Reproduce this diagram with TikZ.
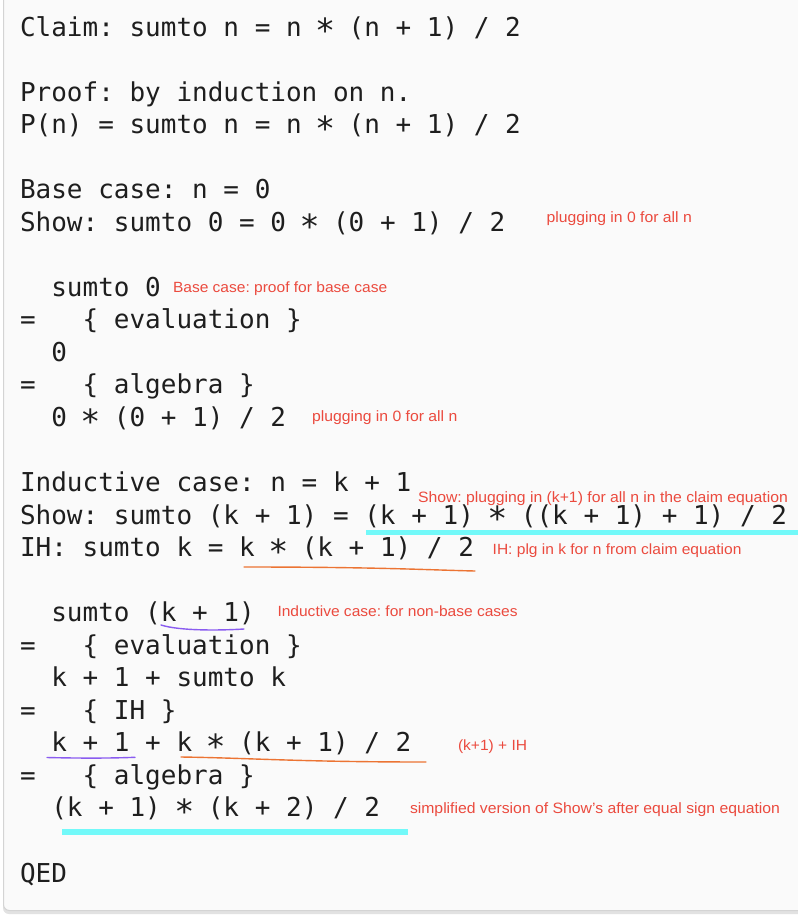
\documentclass[tikz,border=0pt]{standalone}
\usepackage{fontspec}
\newfontfamily\codefont{DejaVu Sans Mono}
\newfontfamily\annofont{Liberation Sans}[FakeStretch=1.05]
\definecolor{boxfill}{HTML}{FAFAFA}
\definecolor{boxline}{HTML}{D4D4D4}
\definecolor{shadowc}{HTML}{E2E2E2}
\definecolor{codetext}{HTML}{1E1E1E}
\definecolor{annored}{HTML}{EB4A3E}
\definecolor{hlcyan}{HTML}{72F9F9}
\definecolor{hlorange}{HTML}{EC7433}
\definecolor{hlpurple}{HTML}{8A5CF0}
\newcommand\mstar{\makebox[0.6021em][c]{\raisebox{-0.26em}{\scalebox{1.28}{*}}}}
\tikzset{
  codeline/.style={anchor=base west, inner sep=0pt, outer sep=0pt, text=codetext,
    font=\codefont\fontsize{26}{30}\selectfont\frenchspacing},
  annotext/.style={anchor=base west, inner sep=0pt, outer sep=0pt, text=annored,
    font=\annofont\fontsize{15}{17}\selectfont\frenchspacing},
  annosmall/.style={annotext, font=\annofont\fontsize{14.8}{16}\selectfont\frenchspacing},
  cyanmark/.style={draw=hlcyan, line width=5.5pt},
  orangemark/.style={draw=hlorange, line width=1.4pt, line cap=round},
  purplemark/.style={draw=hlpurple, line width=1.4pt, line cap=round}
}
\begin{document}
\begin{tikzpicture}[x=1pt,y=-1pt]
\useasboundingbox (0,0) rectangle (798,916);
\clip (0,0) rectangle (798,916);
\fill[white] (0,0) rectangle (798,916);
% box with shadow
\fill[shadowc, rounded corners=6pt] (3,-20) rectangle (830,914);
\filldraw[fill=boxfill, draw=boxline, line width=1pt, rounded corners=6pt] (3.5,-20) rectangle (830,910.5);
% code lines
\node[codeline] (l1)  at (20,36)     {Claim: sumto n = n \mstar{} (n + 1) / 2};
\node[codeline] (l3)  at (20,101.08) {Proof: by induction on n.};
\node[codeline] (l4)  at (20,133.62) {P(n) = sumto n = n \mstar{} (n + 1) / 2};
\node[codeline] (l6)  at (20,198.7)  {Base case: n = 0};
\node[codeline] (l7)  at (20,231.24) {Show: sumto 0 = 0 \mstar{} (0 + 1) / 2};
\node[codeline] (l9)  at (20,296.32) {~~sumto 0};
\node[codeline] (l10) at (20,328.86) {=~~~\{ evaluation \}};
\node[codeline] (l11) at (20,361.4)  {~~0};
\node[codeline] (l12) at (20,393.94) {=~~~\{ algebra \}};
\node[codeline] (l13) at (20,426.48) {~~0 \mstar{} (0 + 1) / 2};
\node[codeline] (l15) at (20,491.56) {Inductive case: n = k + 1};
\node[codeline] (l16) at (20,524.1)  {Show: sumto (k + 1) = (k + 1) \mstar{} ((k + 1) + 1) / 2};
\node[codeline] (l17) at (20,556.64) {IH: sumto k = k \mstar{} (k + 1) / 2};
\node[codeline] (l19) at (20,621.72) {~~sumto (k + 1)};
\node[codeline] (l20) at (20,654.26) {=~~~\{ evaluation \}};
\node[codeline] (l21) at (20,686.8)  {~~k + 1 + sumto k};
\node[codeline] (l22) at (20,719.34) {=~~~\{ IH \}};
\node[codeline] (l23) at (20,751.88) {~~k + 1 + k \mstar{} (k + 1) / 2};
\node[codeline] (l24) at (20,784.42) {=~~~\{ algebra \}};
\node[codeline] (l25) at (20,816.96) {~~(k + 1) \mstar{} (k + 2) / 2};
\node[codeline] (l27) at (20,882.04) {QED};
% highlight marks
\draw[cyanmark] (366,532.5) -- (800,532.5);
\draw[orangemark] (244,567) .. controls (380,567) and (430,570) .. (475,571);
\draw[purplemark] (161,625) .. controls (180,631) and (220,630.5) .. (244,629);
\draw[purplemark] (47,757.5) .. controls (80,758.3) and (110,758.3) .. (135,757.3);
\draw[orangemark] (181,757) .. controls (250,758) and (300,762) .. (426,762);
\draw[cyanmark, line width=6pt] (62,832) -- (408,832);
% annotations
\node[annotext]  (a1) at (546.5,222.3) {plugging in 0 for all n};
\node[annosmall] (a2) at (173,292.3)   {Base case: proof for base case};
\node[annotext]  (a3) at (312,421.5)   {plugging in 0 for all n};
\node[annotext]  (a4) at (418,502.3)   {Show: plugging in (k+1) for all n in the claim equation};
\node[annosmall] (a5) at (492.7,554)   {IH: plg in k for n from claim equation};
\node[annosmall] (a6) at (277.5,616.7) {Inductive case: for non-base cases};
\node[annosmall] (a7) at (458,750)     {(k+1) + IH};
\node[annotext]  (a8) at (410,813.3)   {simplified version of Show’s after equal sign equation};
\end{tikzpicture}
\end{document}
